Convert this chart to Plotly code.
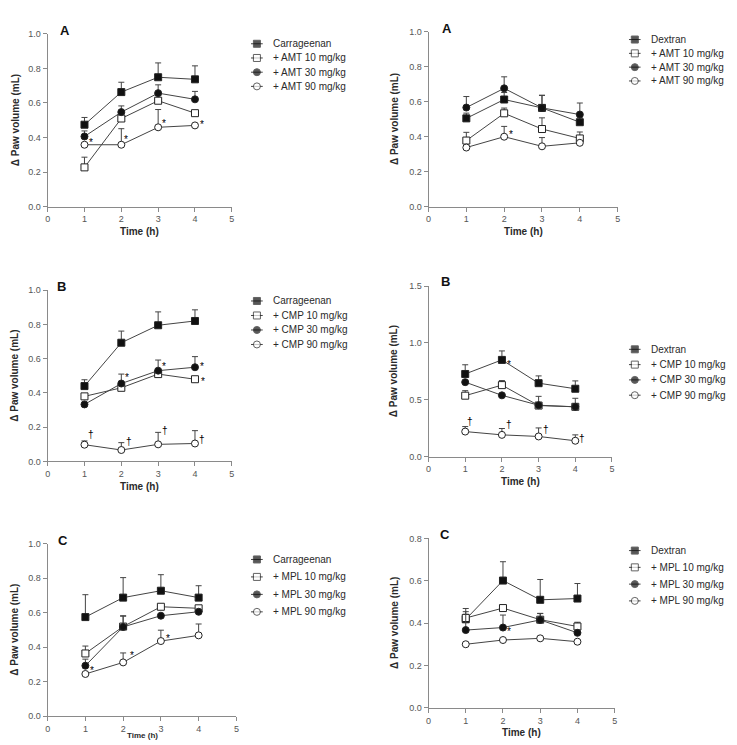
import plotly.graph_objects as go

W, H = 737, 745

TIMES = [1, 2, 3, 4]

# ---- Panel A (left: carrageenan + AMT) ----
A_L_NAMES = ["Carrageenan", "+ AMT 10 mg/kg", "+ AMT 30 mg/kg", "+ AMT 90 mg/kg"]
A_L_CARR = [0.474, 0.663, 0.749, 0.737]
A_L_CARR_ERR = [0.042, 0.057, 0.083, 0.078]
A_L_10 = [0.227, 0.510, 0.613, 0.541]
A_L_10_ERR = [0.059, 0.030, 0.030, 0.015]
A_L_30 = [0.406, 0.547, 0.657, 0.621]
A_L_30_ERR = [0.032, 0.036, 0.048, 0.046]
A_L_90 = [0.358, 0.358, 0.459, 0.470]
A_L_90_ERR = [0.000, 0.093, 0.103, 0.000]

# ---- Panel A (right: dextran + AMT) ----
A_R_NAMES = ["Dextran", "+ AMT 10 mg/kg", "+ AMT 30 mg/kg", "+ AMT 90 mg/kg"]
A_R_DEX = [0.505, 0.613, 0.565, 0.483]
A_R_DEX_ERR = [0.030, 0.040, 0.072, 0.030]
A_R_10 = [0.378, 0.534, 0.444, 0.390]
A_R_10_ERR = [0.047, 0.030, 0.064, 0.037]
A_R_30 = [0.567, 0.677, 0.565, 0.527]
A_R_30_ERR = [0.063, 0.066, 0.072, 0.066]
A_R_90 = [0.338, 0.400, 0.345, 0.365]
A_R_90_ERR = [0.000, 0.059, 0.050, 0.000]

# ---- Panel B (left: carrageenan + CMP) ----
B_L_NAMES = ["Carrageenan", "+ CMP 10 mg/kg", "+ CMP 30 mg/kg", "+ CMP 90 mg/kg"]
B_L_CARR = [0.440, 0.693, 0.795, 0.820]
B_L_CARR_ERR = [0.037, 0.068, 0.078, 0.065]
B_L_10 = [0.380, 0.430, 0.510, 0.480]
B_L_10_ERR = [0.000, 0.020, 0.020, 0.000]
B_L_30 = [0.333, 0.455, 0.530, 0.550]
B_L_30_ERR = [0.000, 0.055, 0.062, 0.062]
B_L_90 = [0.098, 0.067, 0.100, 0.105]
B_L_90_ERR = [0.022, 0.043, 0.070, 0.075]

# ---- Panel B (right: dextran + CMP) ----
B_R_NAMES = ["Dextran", "+ CMP 10 mg/kg", "+ CMP 30 mg/kg", "+ CMP 90 mg/kg"]
B_R_DEX = [0.727, 0.851, 0.646, 0.597]
B_R_DEX_ERR = [0.081, 0.079, 0.064, 0.069]
B_R_10 = [0.536, 0.629, 0.449, 0.438]
B_R_10_ERR = [0.044, 0.040, 0.081, 0.075]
B_R_30 = [0.655, 0.539, 0.452, 0.438]
B_R_30_ERR = [0.000, 0.000, 0.000, 0.000]
B_R_90 = [0.220, 0.191, 0.177, 0.139]
B_R_90_ERR = [0.044, 0.056, 0.075, 0.052]

# ---- Panel C (left: carrageenan + MPL) ----
C_L_NAMES = ["Carrageenan", "+ MPL 10 mg/kg", "+ MPL 30 mg/kg", "+ MPL 90 mg/kg"]
C_L_CARR = [0.574, 0.687, 0.727, 0.687]
C_L_CARR_ERR = [0.130, 0.116, 0.093, 0.069]
C_L_10 = [0.363, 0.519, 0.634, 0.625]
C_L_10_ERR = [0.043, 0.060, 0.000, 0.000]
C_L_30 = [0.292, 0.517, 0.582, 0.605]
C_L_30_ERR = [0.038, 0.065, 0.000, 0.000]
C_L_90 = [0.244, 0.311, 0.435, 0.468]
C_L_90_ERR = [0.000, 0.055, 0.063, 0.066]

# ---- Panel C (right: dextran + MPL) ----
C_R_NAMES = ["Dextran", "+ MPL 10 mg/kg", "+ MPL 30 mg/kg", "+ MPL 90 mg/kg"]
C_R_DEX = [0.418, 0.601, 0.510, 0.516]
C_R_DEX_ERR = [0.051, 0.089, 0.096, 0.071]
C_R_10 = [0.424, 0.471, 0.416, 0.384]
C_R_10_ERR = [0.030, 0.000, 0.030, 0.020]
C_R_30 = [0.367, 0.379, 0.415, 0.354]
C_R_30_ERR = [0.075, 0.059, 0.030, 0.000]
C_R_90 = [0.300, 0.320, 0.328, 0.312]
C_R_90_ERR = [0.000, 0.000, 0.000, 0.000]

X_TICKS = [0, 1, 2, 3, 4, 5]
Y_TITLE = "\u0394 Paw volume (mL)"
X_TITLE = "Time (h)"

FONT = "Liberation Sans, Arial, Helvetica, sans-serif"
LINE = "#444444"
EDGE = "#222222"
AX = "#8a8a8a"
TICKC = "#555555"
TXT = "#2a2a2a"

STYLES = [("square", "#111111"), ("square", "white"), ("circle", "#111111"), ("circle", "white")]

# layout helpers (pixel geometry)
panels = [
    dict(series=[(A_L_CARR, A_L_CARR_ERR), (A_L_10, A_L_10_ERR), (A_L_30, A_L_30_ERR), (A_L_90, A_L_90_ERR)],
         names=A_L_NAMES, xd=(45, 230.7), yd=(29.3, 204.3), ymax=1.0, dtick=0.2,
         letter="A", lpos=(62.7, 26), leg=(250, 39.3, 14.4), ytx=12, xtoff=25.7, xtsize=10,
         sig=[(3, 0, "*", 7, 2), (3, 1, "*", 5, 5), (3, 2, "*", 6, 4), (3, 3, "*", 7, 1)]),
    dict(series=[(A_R_DEX, A_R_DEX_ERR), (A_R_10, A_R_10_ERR), (A_R_30, A_R_30_ERR), (A_R_90, A_R_90_ERR)],
         names=A_R_NAMES, xd=(429, 619.7), yd=(27.3, 204.3), ymax=1.0, dtick=0.2,
         letter="A", lpos=(447.3, 24), leg=(631, 35, 14), ytx=394, xtoff=25.7, xtsize=10,
         sig=[(3, 1, "*", 7, 2)]),
    dict(series=[(B_L_CARR, B_L_CARR_ERR), (B_L_10, B_L_10_ERR), (B_L_30, B_L_30_ERR), (B_L_90, B_L_90_ERR)],
         names=B_L_NAMES, xd=(45, 230.7), yd=(289, 462.7), ymax=1.0, dtick=0.2,
         letter="B", lpos=(59.3, 285), leg=(250, 300, 14.7), ytx=12, xtoff=25.7, xtsize=10,
         sig=[(2, 1, "*", 6, 6), (2, 2, "*", 6, 4), (2, 3, "*", 7, 1), (1, 3, "*", 8, -2),
              (3, 0, "\u2020", 7, 10), (3, 1, "\u2020", 8, 9), (3, 2, "\u2020", 7, 14), (3, 3, "\u2020", 7, 4)]),
    dict(series=[(B_R_DEX, B_R_DEX_ERR), (B_R_10, B_R_10_ERR), (B_R_30, B_R_30_ERR), (B_R_90, B_R_90_ERR)],
         names=B_R_NAMES, xd=(429, 614), yd=(285, 457.7), ymax=1.5, dtick=0.5,
         letter="B", lpos=(446, 280), leg=(631, 349, 15.5), ytx=394, xtoff=25, xtsize=10,
         sig=[(0, 1, "*", 7, -5),
              (3, 0, "\u2020", 5, 10), (3, 1, "\u2020", 7, 10), (3, 2, "\u2020", 7, 7), (3, 3, "\u2020", 7, 2)]),
    dict(series=[(C_L_CARR, C_L_CARR_ERR), (C_L_10, C_L_10_ERR), (C_L_30, C_L_30_ERR), (C_L_90, C_L_90_ERR)],
         names=C_L_NAMES, xd=(45, 235.3), yd=(546, 720.7), ymax=1.0, dtick=0.2,
         letter="C", lpos=(60, 542.7), leg=(250, 562, 17.7), ytx=12, xtoff=19.3, xtsize=8,
         sig=[(3, 0, "*", 7, 3), (3, 1, "*", 9, 7), (3, 2, "*", 7, 3)]),
    dict(series=[(C_R_DEX, C_R_DEX_ERR), (C_R_10, C_R_10_ERR), (C_R_30, C_R_30_ERR), (C_R_90, C_R_90_ERR)],
         names=C_R_NAMES, xd=(429, 616.7), yd=(540.7, 712.3), ymax=0.8, dtick=0.2,
         letter="C", lpos=(446, 536.7), leg=(631, 553, 17), ytx=394, xtoff=25.5, xtsize=10,
         sig=[(2, 1, "*", 6, -4)]),
]

fig = go.Figure()
annotations = []
layout = {}

for i, p in enumerate(panels):
    n = i + 1
    xa = "x" if n == 1 else f"x{n}"
    ya = "y" if n == 1 else f"y{n}"
    for j, (vals, errs) in enumerate(p["series"]):
        sym, fill = STYLES[j]
        fig.add_trace(go.Scatter(
            x=TIMES, y=vals, mode="lines+markers", xaxis=xa, yaxis=ya,
            line=dict(color=LINE, width=1),
            marker=dict(symbol=sym, size=7, color=fill, line=dict(color=EDGE, width=1)),
            error_y=dict(type="data", array=errs, arrayminus=[0] * len(errs), symmetric=False,
                         color=LINE, thickness=1, width=3),
            showlegend=False, cliponaxis=False, hoverinfo="skip", name=p["names"][j]))
    x0, x1 = p["xd"]
    y0, y1 = p["yd"]
    common = dict(showline=True, linecolor=AX, linewidth=1, ticks="outside", ticklen=4,
                  tickwidth=1, tickcolor=AX, tickfont=dict(size=9, color=TICKC, family=FONT),
                  showgrid=False, zeroline=False, fixedrange=True)
    layout["xaxis" if n == 1 else f"xaxis{n}"] = dict(
        domain=[x0 / W, x1 / W], range=[0, 5], tickvals=X_TICKS, anchor=ya, **common)
    layout["yaxis" if n == 1 else f"yaxis{n}"] = dict(
        domain=[1 - y1 / H, 1 - y0 / H], range=[0, p["ymax"]], dtick=p["dtick"], tick0=0,
        tickformat=".1f", anchor=xa, **common)

    # significance marks
    for (s, t, sym, dx, dy) in p["sig"]:
        annotations.append(dict(xref=xa, yref=ya, x=TIMES[t], y=p["series"][s][0][t], text=sym,
                                showarrow=False, xshift=dx, yshift=dy,
                                font=dict(size=10, color="#000000", family=FONT)))

    # panel letter
    lx, ly = p["lpos"]
    annotations.append(dict(xref="paper", yref="paper", x=lx / W, y=1 - ly / H, text=f"<b>{p['letter']}</b>",
                            showarrow=False, xanchor="center", yanchor="middle",
                            font=dict(size=13, color="#111111", family=FONT)))
    # axis titles
    annotations.append(dict(xref="paper", yref="paper", x=p["ytx"] / W, y=1 - (y0 + y1) / 2 / H,
                            text=f"<b>{Y_TITLE}</b>", textangle=-90, showarrow=False,
                            xanchor="center", yanchor="middle",
                            font=dict(size=10, color=TXT, family=FONT)))
    annotations.append(dict(xref="paper", yref="paper", x=(x0 + x1) / 2 / W, y=1 - (y1 + p["xtoff"]) / H,
                            text=f"<b>{X_TITLE}</b>", showarrow=False,
                            xanchor="center", yanchor="middle",
                            font=dict(size=p["xtsize"], color=TXT, family=FONT)))

    # custom legend on its own hidden axes
    m = n + 6
    lxa, lya = f"x{m}", f"y{m}"
    gx, gy0, sp = p["leg"]
    k = len(p["names"])
    ytop = gy0 - sp / 2
    ybot = gy0 + (k - 1) * sp + sp / 2
    layout[f"xaxis{m}"] = dict(domain=[gx / W, (gx + 12) / W], range=[0, 1], visible=False,
                               fixedrange=True, anchor=lya)
    layout[f"yaxis{m}"] = dict(domain=[1 - ybot / H, 1 - ytop / H], range=[k - 0.5, -0.5],
                               visible=False, fixedrange=True, anchor=lxa)
    for j, name in enumerate(p["names"]):
        sym, fill = STYLES[j]
        fig.add_trace(go.Scatter(
            x=[0, 0.5, 1], y=[j, j, j], mode="lines+markers", xaxis=lxa, yaxis=lya,
            line=dict(color=LINE, width=1),
            marker=dict(symbol=sym, size=[0, 7, 0], color=fill,
                        line=dict(color=EDGE, width=[0, 1, 0])),
            showlegend=False, cliponaxis=False, hoverinfo="skip"))
        annotations.append(dict(xref=lxa, yref=lya, x=1, y=j, text=name, showarrow=False,
                                xanchor="left", yanchor="middle", xshift=8,
                                font=dict(size=10, color=TXT, family=FONT)))

fig.update_layout(
    width=W, height=H, margin=dict(l=0, r=0, t=0, b=0),
    paper_bgcolor="white", plot_bgcolor="white",
    font=dict(family=FONT, color=TXT),
    showlegend=False, annotations=annotations, **layout)

fig.write_html("out.html")
